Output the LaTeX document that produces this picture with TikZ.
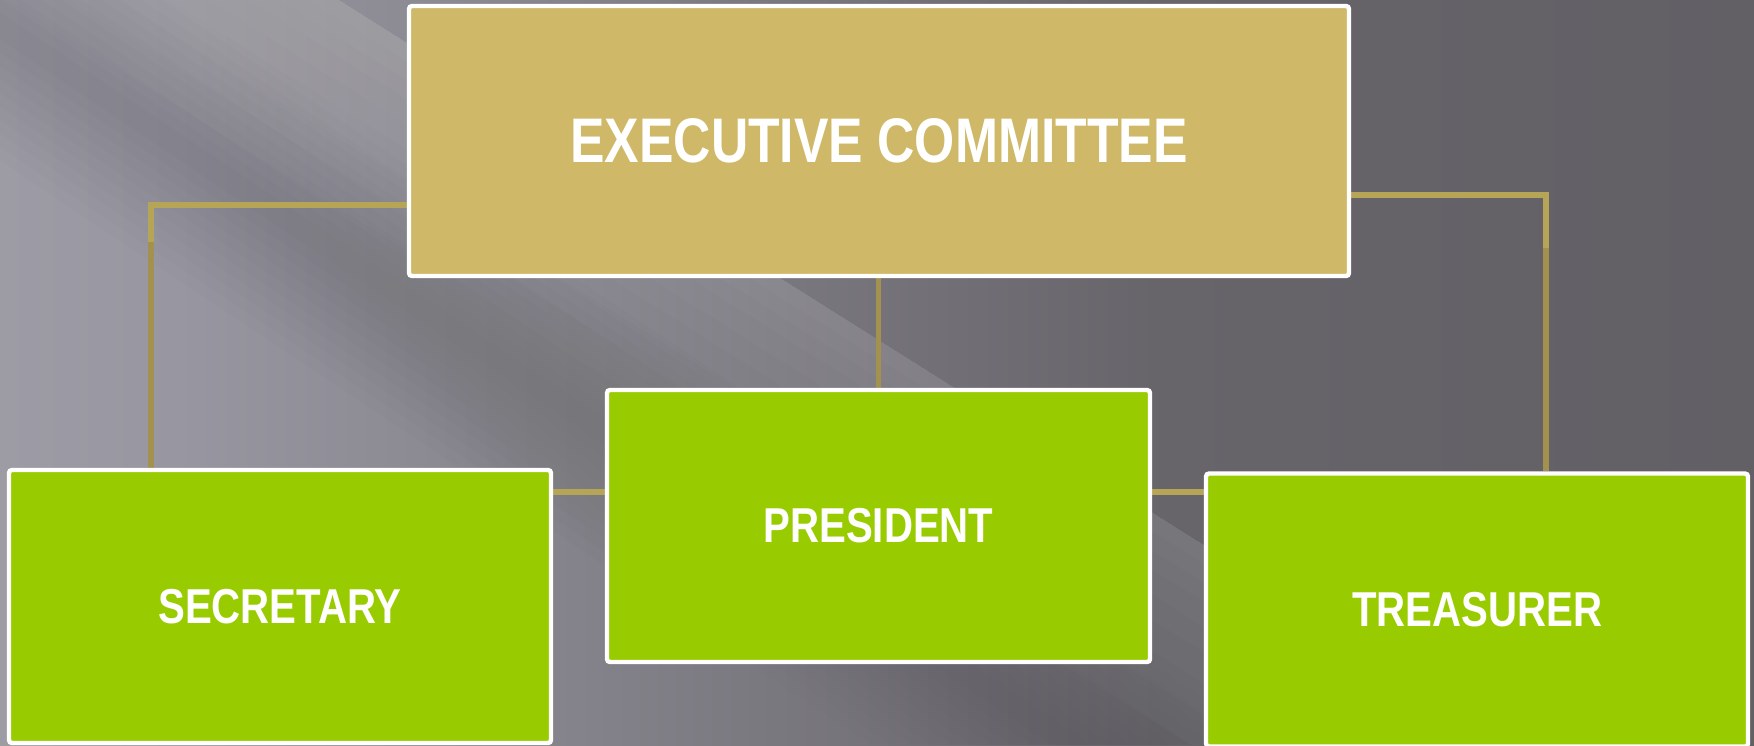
\documentclass[tikz,border=0pt]{standalone}
\usepackage{fontspec}
\setmainfont{Liberation Sans}
\newfontfamily\narrowfont{Liberation Sans}[FakeStretch=0.82]
\definecolor{bgL}{HTML}{B6B4BB}
\definecolor{bgM}{HTML}{9896A0}
\definecolor{bgD}{HTML}{67656A}
\definecolor{bgR}{HTML}{5A585E}
\definecolor{goldfill}{HTML}{CFB968}
\definecolor{goldline}{HTML}{B6A457}
\definecolor{golddark}{HTML}{A2914F}
\definecolor{greenfill}{HTML}{99CC00}
\pgfdeclarehorizontalshading{bgshade}{100bp}{color(0bp)=(bgL); color(30bp)=(bgM); color(58bp)=(bgD); color(100bp)=(bgR)}
\pgfdeclarelayer{back}
\pgfsetlayers{back,main}
\tikzset{
  conn/.style={draw=goldline, line width=2.6pt},
  conndark/.style={draw=golddark, line width=2.6pt},
  execbox/.style={rectangle, draw=white, line width=2.2pt, rounded corners=1.5pt, fill=goldfill,
    text=white, inner sep=0pt, font=\narrowfont\bfseries\fontsize{31.5}{36}\selectfont},
  rolebox/.style={rectangle, draw=white, line width=2.2pt, rounded corners=1.5pt, fill=greenfill,
    text=white, inner sep=0pt, font=\narrowfont\bfseries\fontsize{24.5}{28}\selectfont},
}
\begin{document}
\begin{tikzpicture}[x=0.5pt,y=-0.5pt]
\useasboundingbox (0,0) rectangle (1754,745);
\clip (0,0) rectangle (1754,745);
% nodes
\node[execbox, minimum width=470pt, minimum height=135pt] (exec) at (879,141) {EXECUTIVE COMMITTEE};
\node[rolebox, minimum width=271pt, minimum height=136.5pt] (sec) at (280,606.5) {SECRETARY};
\node[rolebox, minimum width=271.5pt, minimum height=136pt] (pres) at (878.5,526) {PRESIDENT};
\node[rolebox, minimum width=271pt, minimum height=136.5pt] (tre) at (1477,610) {TREASURER};
\coordinate (lc) at (151,205);
\coordinate (rc) at (1546,195);
\coordinate (ld) at (151,242);
\coordinate (rd) at (1546,248);
\coordinate (mc) at (0,492);
\begin{pgfonlayer}{back}
  % background
  \shade[shading=bgshade] (0,0) rectangle (1754,745);
  % light streak ending in a sharp edge
  \foreach \w in {30,60,90,130,170,220,270,330}
    \fill[white, opacity=0.02] (339-\w,0) -- (339,0) -- (1521,745) -- (1521-\w,745) -- cycle;
  % soft dark band lower left
  \foreach \w in {20,40,60,80,100,120,140,160,180,200}
    \fill[black, opacity=0.009] (-39-\w,0) -- (-39+\w,0) -- (1072+\w,745) -- (1072-\w,745) -- cycle;
  % connectors
  \draw[conn] (exec.west |- lc) -| (lc |- sec.north);
  \draw[conn] (exec.east |- rc) -| (rc |- tre.north);
  \draw[conndark] (ld) -- (ld |- sec.north);
  \draw[conndark] (rd) -- (rd |- tre.north);
  \draw[conndark] (exec.south -| pres.north) -- (pres.north);
  \draw[conn] (sec.east |- mc) -- (tre.west |- mc);
\end{pgfonlayer}
\end{tikzpicture}
\end{document}
